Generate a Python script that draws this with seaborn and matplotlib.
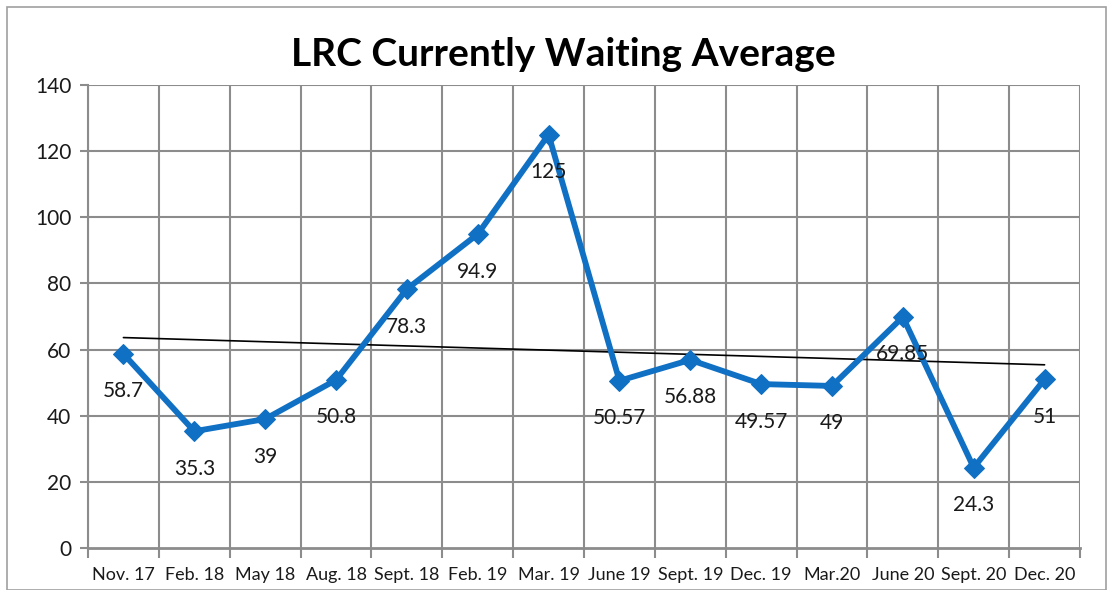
import numpy as np
import pandas as pd
import matplotlib
matplotlib.use("Agg")
import matplotlib.pyplot as plt
import seaborn as sns
from matplotlib.patches import Rectangle

categories = ["Nov. 17", "Feb. 18", "May 18", "Aug. 18", "Sept. 18", "Feb. 19", "Mar. 19",
              "June 19", "Sept. 19", "Dec. 19", "Mar.20", "June 20", "Sept. 20", "Dec. 20"]
values = [58.7, 35.3, 39, 50.8, 78.3, 94.9, 125, 50.57, 56.88, 49.57, 49, 69.85, 24.3, 51]
label_texts = ["58.7", "35.3", "39", "50.8", "78.3", "94.9", "125", "50.57", "56.88",
               "49.57", "49", "69.85", "24.3", "51"]
yticks = [0, 20, 40, 60, 80, 100, 120, 140]

sns.set_theme(style="white")
plt.rcParams['font.family'] = ['Lato', 'DejaVu Sans']

df = pd.DataFrame({"pos": np.arange(len(categories)), "value": values, "cat": categories})

fig = plt.figure(figsize=(11.11, 5.90), dpi=100)
ax = fig.add_axes([88/1111, 1-548/590, (1080-88)/1111, (548-85)/590])

grid_c = "#8c8c8c"
# grid
for yv in yticks[1:]:
    ax.axhline(yv, color=grid_c, lw=1.5, zorder=0)
for xv in np.arange(-0.5, len(categories) + 0.5, 1.0):
    ax.axvline(xv, color=grid_c, lw=1.5, zorder=0)

# trendline
sns.regplot(data=df, x="pos", y="value", scatter=False, ci=None, ax=ax,
            line_kws=dict(color="black", lw=1.2, zorder=2), truncate=True)

sns.lineplot(data=df, x="pos", y="value", ax=ax, color="#1070c4", lw=4.2,
             marker="D", markersize=10, markeredgecolor="#1070c4", zorder=3)

for i, (v, t) in enumerate(zip(values, label_texts)):
    ax.annotate(t, (i, v), xytext=(0, -27), textcoords="offset points",
                ha="center", va="center", fontsize=15, color="#1a1a1a", zorder=4)

ax.set_xlim(-0.5, len(categories) - 0.5)
ax.set_ylim(0, 140)
ax.set_yticks(yticks)
ax.set_yticklabels([str(y) for y in yticks], fontsize=15, color="#1a1a1a")
ax.set_xticks(np.arange(len(categories)))
ax.set_xticklabels(categories, fontsize=13, color="#1a1a1a")
ax.tick_params(axis="x", length=0, pad=14)
ax.tick_params(axis="y", length=6, width=1.5, color=grid_c, left=True, pad=6)
# x tick marks at boundaries
ax.set_xticks(np.arange(-0.5, len(categories) + 0.5, 1.0), minor=True)
ax.tick_params(axis="x", which="minor", length=7, width=1.5, color=grid_c, bottom=True)
ax.set_xlabel("")
ax.set_ylabel("")

for s in ["top", "right"]:
    ax.spines[s].set_visible(False)
ax.spines["left"].set_color(grid_c)
ax.spines["left"].set_linewidth(1.5)
ax.spines["bottom"].set_color(grid_c)
ax.spines["bottom"].set_linewidth(2)

fig.text(563/1111, 1-55/590, "LRC Currently Waiting Average", ha="center", va="center",
         fontsize=28, fontweight="bold", color="black")

fig.patches.append(Rectangle((7/1111, 0), (1106-7)/1111, 1-7/590, transform=fig.transFigure,
                             fill=False, edgecolor="#a0a0a0", lw=1.2))

fig.savefig("out.png", dpi=100, facecolor="white")
